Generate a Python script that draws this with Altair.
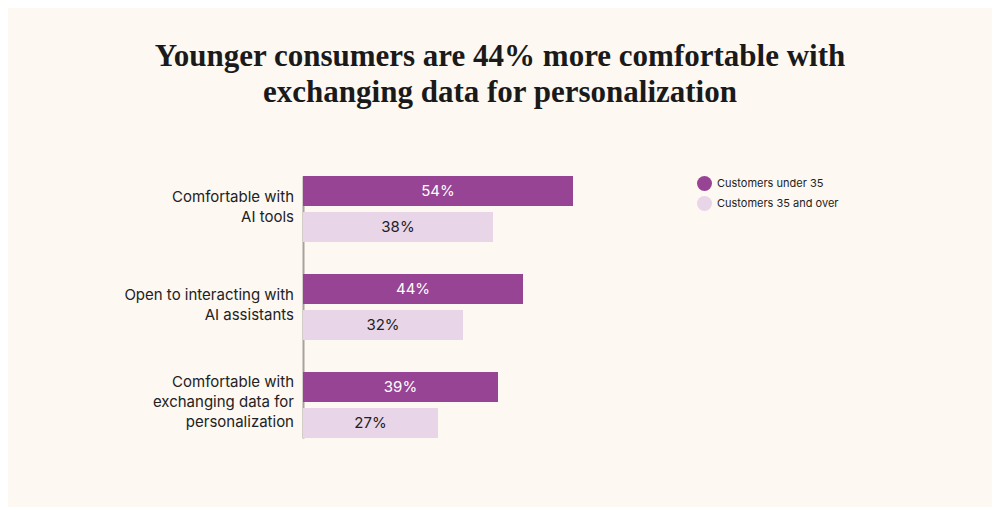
import altair as alt
import pandas as pd

categories = [
    "Comfortable with\nAI tools",
    "Open to interacting with\nAI assistants",
    "Comfortable with\nexchanging data for\npersonalization",
]
series = ["Customers under 35", "Customers 35 and over"]
under_35 = [54, 44, 39]
over_35 = [38, 32, 27]
colors = ["#984494", "#e8d5e7"]

rows = []
for c, a, b in zip(categories, under_35, over_35):
    rows.append({"category": c, "series": series[0], "value": a})
    rows.append({"category": c, "series": series[1], "value": b})
df = pd.DataFrame(rows)
cat_df = pd.DataFrame({"category": categories})

BG = "#fdf8f2"
SANS = "Inter"

y_enc = alt.Y("category:N", sort=categories,
              scale=alt.Scale(paddingInner=32 / 98, paddingOuter=0),
              axis=alt.Axis(labels=False, ticks=False, title=None, domain=True,
                            domainColor="#a8a29c", domainWidth=2, grid=False))
yoff = alt.YOffset("series:N", sort=series,
                   scale=alt.Scale(paddingInner=1 / 6, paddingOuter=0))
x_enc = alt.X("value:Q", scale=alt.Scale(domain=[0, 100]), axis=None)

bars = alt.Chart(df).mark_bar().encode(
    x=x_enc,
    y=y_enc,
    yOffset=yoff,
    color=alt.Color("series:N", sort=series,
                    scale=alt.Scale(domain=series, range=colors),
                    legend=alt.Legend(orient="none", legendX=394, legendY=0,
                                      title=None, symbolType="circle",
                                      symbolSize=225, symbolStrokeWidth=0,
                                      labelFontSize=11, labelFont=SANS,
                                      labelColor="#222222", rowPadding=5,
                                      labelOffset=5)),
)

values = alt.Chart(df).transform_calculate(
    mid="datum.value / 2", lab="datum.value + '%'"
).mark_text(font=SANS, fontSize=15, baseline="middle", align="center").encode(
    x=alt.X("mid:Q", scale=alt.Scale(domain=[0, 100])),
    y=alt.Y("category:N", sort=categories),
    yOffset=alt.YOffset("series:N", sort=series),
    text="lab:N",
    color=alt.condition(alt.datum.series == series[0],
                        alt.value("#ffffff"), alt.value("#222222")),
)

cat_labels = alt.Chart(cat_df).mark_text(
    font=SANS, fontSize=15, align="right", baseline="middle",
    lineBreak="\n", lineHeight=20, color="#222222", dx=-9,
    dy=alt.expr("-11 * (length(split(datum.category, '\\n')) - 1) - 1"),
).encode(
    x=alt.value(0),
    y=alt.Y("category:N", sort=categories),
    text="category:N",
)

chart = alt.layer(bars, values, cat_labels).properties(
    width=500, height=262,
    background=BG,
    padding={"left": 295, "top": 168, "right": 189, "bottom": 69},
    autosize=alt.AutoSizeParams(type="none"),
    title=alt.TitleParams(
        text=["Younger consumers are 44% more comfortable with",
              "exchanging data for personalization"],
        font="Liberation Serif", fontSize=31, fontWeight="bold",
        lineHeight=36, color="#1a1a1a", anchor="middle", dx=-53, offset=67,
    ),
).configure_view(stroke=None)

chart.save("out.html", embed_options={"renderer": "svg", "actions": False})
